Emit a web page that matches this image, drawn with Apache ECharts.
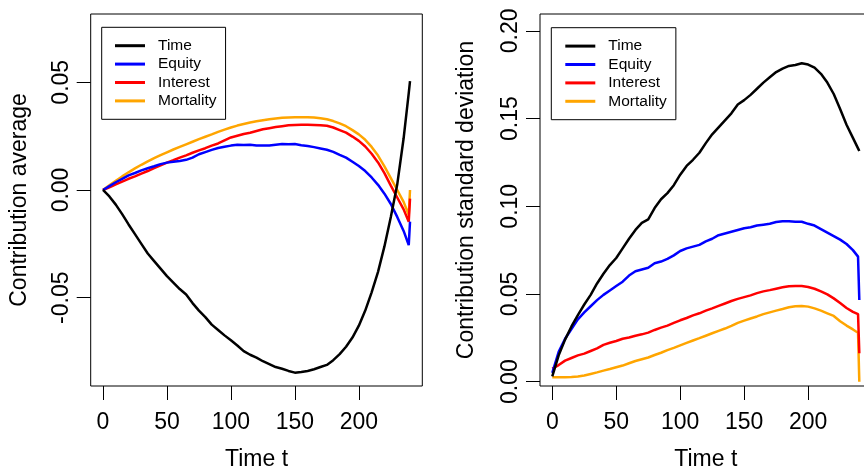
<!DOCTYPE html>
<html>
<head>
<meta charset="utf-8">
<script src="https://cdn.jsdelivr.net/npm/echarts@6/dist/echarts.min.js"></script>
<style>
  html, body { margin: 0; padding: 0; background: #fff; }
  #chart { width: 864px; height: 469px; }
</style>
</head>
<body>
<div id="chart"></div>
<script>
// time grid shared by every series (last steps kept fine to show the end jump)
var times = [0, 5, 10, 15, 20, 25, 30, 35, 40, 45, 50, 55, 60, 65, 70, 75, 80, 85, 90, 95,
  100, 105, 110, 115, 120, 125, 130, 135, 140, 145, 150, 155, 160, 165, 170, 175, 180, 185, 190, 195,
  200, 205, 210, 215, 220, 225, 230, 235, 239, 240];

var series_names = ['Time', 'Equity', 'Interest', 'Mortality'];
var series_colors = ['#000000', '#0000ff', '#ff0000', '#ffa500'];

// left panel: contribution average
var avg_time = [0.000, -0.0030, -0.0068, -0.0112, -0.0160, -0.0205, -0.0250, -0.0295, -0.0330, -0.0365,
  -0.0400, -0.0430, -0.0460, -0.0485, -0.0525, -0.0560, -0.0590, -0.0625, -0.0650, -0.0675,
  -0.0698, -0.0722, -0.0748, -0.0765, -0.0778, -0.0795, -0.0808, -0.0822, -0.0830, -0.0840,
  -0.0848, -0.0845, -0.0840, -0.0832, -0.0822, -0.0812, -0.0790, -0.0762, -0.0728, -0.0685,
  -0.0630, -0.0560, -0.0475, -0.0380, -0.0262, -0.0125, 0.0025, 0.0240, 0.0450, 0.0505];
var avg_equity = [0.000, 0.0018, 0.0036, 0.0052, 0.0068, 0.0079, 0.0091, 0.0101, 0.0110, 0.0120,
  0.0127, 0.0131, 0.0135, 0.0140, 0.0150, 0.0166, 0.0176, 0.0186, 0.0195, 0.0201,
  0.0206, 0.0210, 0.0209, 0.0210, 0.0206, 0.0207, 0.0206, 0.0210, 0.0213, 0.0212,
  0.0213, 0.0208, 0.0204, 0.0199, 0.0193, 0.0187, 0.0177, 0.0163, 0.0150, 0.0131,
  0.0111, 0.0088, 0.0058, 0.0024, -0.0017, -0.0065, -0.0125, -0.0190, -0.0256, -0.0147];
var avg_interest = [0.000, 0.0012, 0.0026, 0.0039, 0.0052, 0.0063, 0.0076, 0.0088, 0.0101, 0.0114,
  0.0127, 0.0138, 0.0150, 0.0161, 0.0173, 0.0184, 0.0194, 0.0206, 0.0216, 0.0230,
  0.0244, 0.0252, 0.0260, 0.0266, 0.0274, 0.0282, 0.0287, 0.0292, 0.0296, 0.0300,
  0.0302, 0.0303, 0.0303, 0.0302, 0.0301, 0.0298, 0.0290, 0.0278, 0.0266, 0.0248,
  0.0228, 0.0202, 0.0168, 0.0128, 0.0078, 0.0020, -0.0035, -0.0090, -0.0147, -0.0040];
var avg_mortality = [0.000, 0.0022, 0.0043, 0.0063, 0.0082, 0.0100, 0.0117, 0.0133, 0.0148, 0.0162,
  0.0175, 0.0188, 0.0200, 0.0212, 0.0224, 0.0236, 0.0247, 0.0258, 0.0270, 0.0280,
  0.0290, 0.0299, 0.0306, 0.0313, 0.0319, 0.0324, 0.0328, 0.0332, 0.0335, 0.0337,
  0.0338, 0.0338, 0.0338, 0.0336, 0.0333, 0.0328, 0.0320, 0.0309, 0.0296, 0.0278,
  0.0258, 0.0233, 0.0200, 0.0160, 0.0110, 0.0055, 0.0000, -0.0055, -0.0116, 0.0000];

// right panel: contribution standard deviation
var sd_time = [0.0030, 0.0150, 0.0240, 0.0315, 0.0380, 0.0440, 0.0495, 0.0560, 0.0615, 0.0665,
  0.0705, 0.0760, 0.0815, 0.0865, 0.0905, 0.0925, 0.0990, 0.1040, 0.1075, 0.1120,
  0.1180, 0.1230, 0.1265, 0.1305, 0.1360, 0.1410, 0.1450, 0.1490, 0.1530, 0.1580,
  0.1605, 0.1635, 0.1670, 0.1705, 0.1735, 0.1765, 0.1785, 0.1800, 0.1805, 0.1815,
  0.1808, 0.1790, 0.1755, 0.1705, 0.1640, 0.1555, 0.1465, 0.1390, 0.1330, 0.1315];
var sd_equity = [0.0050, 0.0170, 0.0245, 0.0300, 0.0355, 0.0395, 0.0430, 0.0465, 0.0495, 0.0520,
  0.0545, 0.0570, 0.0605, 0.0630, 0.0640, 0.0650, 0.0675, 0.0685, 0.0700, 0.0720,
  0.0745, 0.0760, 0.0770, 0.0780, 0.0800, 0.0815, 0.0835, 0.0845, 0.0855, 0.0865,
  0.0875, 0.0880, 0.0890, 0.0895, 0.0900, 0.0910, 0.0915, 0.0915, 0.0912, 0.0912,
  0.0900, 0.0890, 0.0870, 0.0850, 0.0830, 0.0810, 0.0785, 0.0750, 0.0713, 0.0466];
var sd_interest = [0.0075, 0.0095, 0.0120, 0.0135, 0.0150, 0.0160, 0.0175, 0.0190, 0.0210, 0.0222,
  0.0232, 0.0245, 0.0252, 0.0262, 0.0270, 0.0280, 0.0295, 0.0308, 0.0320, 0.0335,
  0.0350, 0.0363, 0.0378, 0.0390, 0.0405, 0.0418, 0.0432, 0.0446, 0.0460, 0.0472,
  0.0482, 0.0492, 0.0505, 0.0515, 0.0522, 0.0530, 0.0538, 0.0544, 0.0546, 0.0545,
  0.0540, 0.0530, 0.0515, 0.0498, 0.0475, 0.0448, 0.0420, 0.0398, 0.0385, 0.0162];
var sd_mortality = [0.0025, 0.0025, 0.0025, 0.0027, 0.0030, 0.0035, 0.0044, 0.0053, 0.0063, 0.0072,
  0.0082, 0.0092, 0.0105, 0.0118, 0.0128, 0.0138, 0.0152, 0.0165, 0.0180, 0.0193,
  0.0207, 0.0221, 0.0235, 0.0248, 0.0262, 0.0276, 0.0290, 0.0303, 0.0318, 0.0335,
  0.0348, 0.0360, 0.0372, 0.0385, 0.0395, 0.0405, 0.0414, 0.0424, 0.0430, 0.0432,
  0.0428, 0.0418, 0.0405, 0.0390, 0.0375, 0.0345, 0.0320, 0.0298, 0.0279, 0.0000];

var x_ticks = [0, 50, 100, 150, 200];
var y_ticks_avg = [-0.05, 0.00, 0.05];
var y_ticks_sd = [0.00, 0.05, 0.10, 0.15, 0.20];

var font = 'Liberation Sans, Arial, sans-serif';

function pairs(values) {
    return times.map(function (t, i) { return [t, values[i]]; });
}

function make_x(grid) {
    return {
        type: 'value', gridIndex: grid, min: -9.6, max: 249.6,
        name: 'Time t', nameLocation: 'middle', nameGap: 62,
        nameTextStyle: { fontFamily: font, fontSize: 23, color: '#000' },
        axisLine: { show: false, onZero: false },
        axisTick: { show: true, length: 14, customValues: x_ticks, lineStyle: { color: '#000' } },
        axisLabel: { customValues: x_ticks, margin: 25, fontFamily: font, fontSize: 23, color: '#000' },
        splitLine: { show: false }
    };
}

function make_y(grid, name, min, max, ticks, gap) {
    return {
        type: 'value', gridIndex: grid, min: min, max: max,
        name: name, nameLocation: 'middle', nameRotate: 90, nameGap: gap,
        nameTextStyle: { fontFamily: font, fontSize: 23, color: '#000' },
        axisLine: { show: false, onZero: false },
        axisTick: { show: true, length: 14, customValues: ticks, lineStyle: { color: '#000' } },
        axisLabel: {
            customValues: ticks, rotate: 90, margin: 18, fontFamily: font, fontSize: 23, color: '#000',
            formatter: function (v) { return v.toFixed(2); }
        },
        splitLine: { show: false }
    };
}

function make_legend(left, top, pad_left) {
    return {
        data: series_names, orient: 'vertical', left: left, top: top,
        padding: [9.2, 9, 9.2, pad_left], itemGap: 0,
        itemWidth: 30, itemHeight: 3, icon: 'rect',
        borderColor: '#000', borderWidth: 1,
        selectedMode: false,
        textStyle: { fontFamily: font, fontSize: 15.5, lineHeight: 18.4, color: '#000', padding: [0, 0, 0, 8] }
    };
}

var left_values = [avg_time, avg_equity, avg_interest, avg_mortality];
var right_values = [sd_time, sd_equity, sd_interest, sd_mortality];

var series = [];
[left_values, right_values].forEach(function (group, g) {
    group.forEach(function (values, i) {
        series.push({
            name: series_names[i], type: 'line', xAxisIndex: g, yAxisIndex: g,
            data: pairs(values), showSymbol: false, symbol: 'none',
            color: series_colors[i],
            lineStyle: { color: series_colors[i], width: 2.5 },
            z: 10 - i
        });
    });
});

var grid_base = {
    top: 14, width: 331.6, height: 372, show: true,
    borderColor: '#000', borderWidth: 1, backgroundColor: 'transparent',
    containLabel: false, outerBoundsMode: 'none'
};

var chart = echarts.init(document.getElementById('chart'), null, { renderer: 'canvas' });
chart.setOption({
    animation: false,
    backgroundColor: '#fff',
    grid: [
        Object.assign({ left: 90.7 }, grid_base),
        Object.assign({ left: 540 }, grid_base)
    ],
    xAxis: [make_x(0), make_x(1)],
    yAxis: [
        make_y(0, 'Contribution average', -0.0910, 0.0817, y_ticks_avg, 60),
        make_y(1, 'Contribution standard deviation', -0.00245, 0.2096, y_ticks_sd, 62)
    ],
    legend: [make_legend(101.7, 27.3, 13.3), make_legend(551.3, 27.7, 14)],
    series: series
});
</script>
</body>
</html>
